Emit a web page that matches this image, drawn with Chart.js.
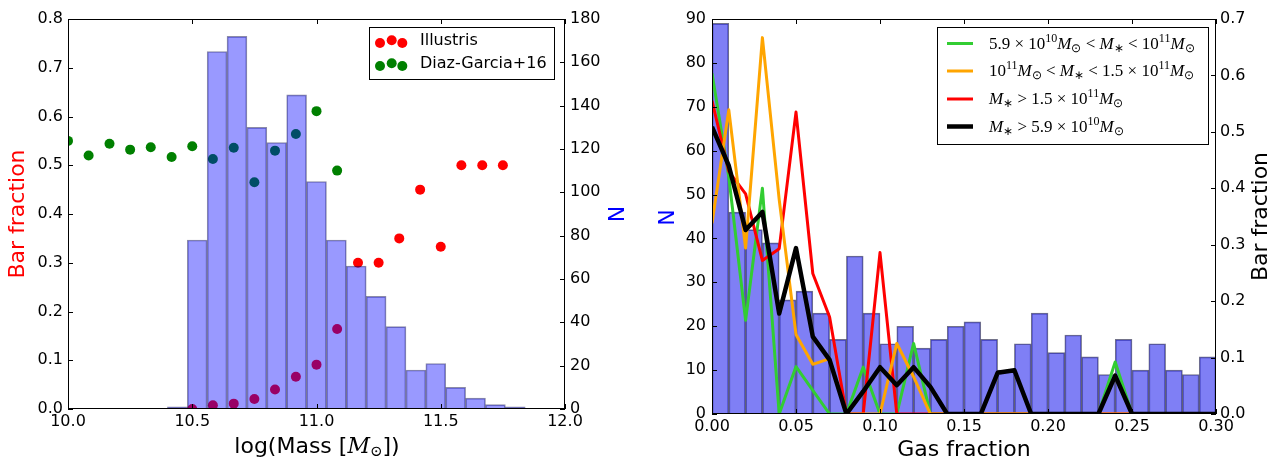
<!DOCTYPE html>
<html><head><meta charset="utf-8">
<script src="https://cdn.jsdelivr.net/npm/chart.js@4/dist/chart.umd.min.js"></script>
<style>
html,body{margin:0;padding:0;background:#fff;}
#wrap{position:relative;width:1274px;height:459px;overflow:hidden;background:#fff;}
#c1{position:absolute;left:0;top:0;}
#c2{position:absolute;left:640px;top:0;}
</style></head><body>
<div id="wrap">
<canvas id="c1" width="640" height="459"></canvas>
<canvas id="c2" width="634" height="459"></canvas>
</div>
<script>
// ---------------- DATA ----------------
// Left panel: stellar-mass histogram (N, right axis) and bar fractions (left axis)
const massBinCenters = [10.44,10.52,10.60,10.68,10.76,10.84,10.92,11.00,11.08,11.16,11.24,11.32,11.40,11.48,11.56,11.64,11.72,11.80];
const massCounts     = [1,78,165,172,130,123,145,105,78,66,52,38,18,21,10,5,2,1];
const illustrisMass  = [10.5,10.583,10.667,10.75,10.833,10.917,11.0,11.083,11.167,11.25,11.333,11.417,11.5,11.583,11.667,11.75];
const illustrisFrac  = [0.0,0.0075,0.011,0.0205,0.040,0.066,0.091,0.164,0.30,0.30,0.35,0.45,0.333,0.50,0.50,0.50];
const diazMass       = [10.0,10.083,10.167,10.25,10.333,10.417,10.5,10.583,10.667,10.75,10.833,10.917,11.0,11.083];
const diazFrac       = [0.55,0.52,0.544,0.532,0.537,0.517,0.539,0.513,0.536,0.465,0.530,0.564,0.611,0.489];
const leftLegend     = ['Illustris','Diaz-Garcia+16'];

// Right panel: gas-fraction histogram (N, left axis) and bar fraction curves (right axis)
const gasBinCenters = [0.005,0.015,0.025,0.035,0.045,0.055,0.065,0.075,0.085,0.095,0.105,0.115,0.125,0.135,0.145,0.155,0.165,0.175,0.185,0.195,0.205,0.215,0.225,0.235,0.245,0.255,0.265,0.275,0.285,0.295];
const gasCounts     = [89,46,42,39,26,28,23,17,36,23,16,20,15,17,20,21,17,10,16,23,14,18,13,9,17,10,16,10,9,13];
const gasX          = [0.00,0.01,0.02,0.03,0.04,0.05,0.06,0.07,0.08,0.09,0.10,0.11,0.12,0.13,0.14,0.15,0.16,0.17,0.18,0.19,0.20,0.21,0.22,0.23,0.24,0.25,0.26,0.27,0.28,0.29,0.30];
const fracLowMass   = [0.604,0.42,0.166,0.40,0,0.084,0.042,0,0,0.083,0,0,0.125,0,0,0,0,0,0,0,0,0,0,0,0.092,0,0,0,0,0,0];
const fracMidMass   = [0.338,0.539,0.294,0.667,0.38,0.141,0.088,0.098,0,0,0,0.125,0.066,0,0,0,0,0,0,0,0,0,0,0,0,0,0,0,0,0,0];
const fracHighMass  = [0.555,0.43,0.39,0.272,0.293,0.535,0.249,0.172,0,0,0.286,0,0,0,0,0,0,0,0,0,0,0,0,0,0,0,0,0,0,0,0];
const fracAllMass   = [0.509,0.440,0.326,0.358,0.178,0.294,0.137,0.096,0,0.04,0.083,0.051,0.083,0.048,0,0,0,0.073,0.0775,0,0,0,0,0,0.068,0,0,0,0,0,0];

// ---------------- HELPERS ----------------
Chart.defaults.font.family = "'DejaVu Sans', sans-serif";
Chart.defaults.font.size = 16;
Chart.defaults.color = '#000';
Chart.defaults.animation = false;

const xy = (xs, ys) => xs.map((x, i) => ({x, y: ys[i]}));

function drawRich(ctx, x, y, segs, size, family, align) {
  const sm = Math.round(size * 0.7);
  const parts = segs.map(([t, k]) => {
    let font, dy = 0;
    if (k === 'i') font = `italic ${size}px ${family}`;
    else if (k === 'sup') { font = `${sm}px ${family}`; dy = -size * 0.36; }
    else if (k === 'sub') { font = `${sm}px ${family}`; dy = size * 0.25; }
    else if (k === 's') font = `${size}px 'DejaVu Sans'`;
    else font = `${size}px ${family}`;
    ctx.font = font;
    return {t, font, dy, w: ctx.measureText(t).width};
  });
  const total = parts.reduce((a, p) => a + p.w, 0);
  let cx = align === 'center' ? x - total / 2 : x;
  ctx.textBaseline = 'middle'; ctx.textAlign = 'left';
  for (const p of parts) { ctx.font = p.font; ctx.fillText(p.t, cx, y + p.dy); cx += p.w; }
}

function rotText(ctx, text, x, y, font, color, ang) {
  ctx.save();
  ctx.translate(x, y); ctx.rotate(ang);
  ctx.font = font; ctx.fillStyle = color;
  ctx.textAlign = 'center'; ctx.textBaseline = 'middle';
  ctx.fillText(text, 0, 0);
  ctx.restore();
}

const frameTicks = {
  id: 'frameTicks',
  afterDraw(chart) {
    const {ctx, chartArea: a, scales} = chart;
    const L = 5;
    ctx.save();
    ctx.strokeStyle = '#000'; ctx.lineWidth = 1;
    ctx.beginPath();
    scales.x.ticks.forEach((t, i) => {
      const px = Math.round(scales.x.getPixelForTick(i)) + 0.5;
      ctx.moveTo(px, a.bottom); ctx.lineTo(px, a.bottom - L);
      ctx.moveTo(px, a.top); ctx.lineTo(px, a.top + L);
    });
    scales.y.ticks.forEach((t, i) => {
      const py = Math.round(scales.y.getPixelForTick(i)) + 0.5;
      ctx.moveTo(a.left, py); ctx.lineTo(a.left + L, py);
    });
    scales.y2.ticks.forEach((t, i) => {
      const py = Math.round(scales.y2.getPixelForTick(i)) + 0.5;
      ctx.moveTo(a.right, py); ctx.lineTo(a.right - L, py);
    });
    ctx.stroke();
    ctx.strokeRect(Math.round(a.left) + 0.5, Math.round(a.top) + 0.5, Math.round(a.right - a.left) - 1, Math.round(a.bottom - a.top) - 1);
    ctx.restore();
  }
};

function axisOpts(min, max, step, digits, pos, pad, fitKey, fitVal) {
  return {
    type: 'linear', position: pos, min, max, offset: false,
    grid: {display: false, drawTicks: false},
    border: {display: false},
    ticks: {stepSize: step, padding: pad, autoSkip: false, maxRotation: 0,
            callback: v => Number(v).toFixed(digits), font: {size: 16}, color: '#000'},
    afterFit: s => { s[fitKey] = fitVal; }
  };
}

// ---------------- LEFT PANEL ----------------
const leftDecor = {
  id: 'leftDecor',
  afterDraw(chart) {
    const ctx = chart.ctx, a = chart.chartArea;
    ctx.save();
    rotText(ctx, 'Bar fraction', 18, (a.top + a.bottom) / 2, "22px 'DejaVu Sans'", '#ff0000', -Math.PI / 2);
    rotText(ctx, 'N', 618, (a.top + a.bottom) / 2, "22px 'DejaVu Sans'", '#0000ff', -Math.PI / 2);
    ctx.fillStyle = '#000';
    drawRich(ctx, 317, 447, [['log(Mass [', 's'], ['M', 'i'], ['\u2299', 'sub'], ['])', 's']], 22, "'DejaVu Serif'", 'center');
    // legend
    ctx.fillStyle = '#fff'; ctx.fillRect(369, 27, 185, 52);
    ctx.strokeStyle = '#000'; ctx.lineWidth = 1; ctx.strokeRect(369.5, 27.5, 185, 52);
    const rows = [{y: 41, c: '#ff0000', t: leftLegend[0]}, {y: 64, c: '#008000', t: leftLegend[1]}];
    rows.forEach(r => {
      ctx.fillStyle = r.c;
      [[380, 2], [391.7, -0.8], [402.3, 2]].forEach(([px, dy]) => {
        ctx.beginPath(); ctx.arc(px, r.y + dy, 5, 0, Math.PI * 2); ctx.fill();
      });
      ctx.fillStyle = '#000'; ctx.font = "16px 'DejaVu Sans'";
      ctx.textAlign = 'left'; ctx.textBaseline = 'middle';
      ctx.fillText(r.t, 420, r.y);
    });
    ctx.restore();
  }
};

new Chart(document.getElementById('c1'), {
  type: 'scatter',
  data: {
    datasets: [
      {type: 'bar', label: 'N', data: xy(massBinCenters, massCounts), yAxisID: 'y2', xAxisID: 'x',
       backgroundColor: 'rgba(0,0,255,0.4)', borderColor: 'rgba(0,0,60,0.45)', borderWidth: 1,
       barPercentage: 1, categoryPercentage: 1, order: 0, clip: 0},
      {label: leftLegend[0], data: xy(illustrisMass, illustrisFrac), yAxisID: 'y',
       backgroundColor: '#ff0000', borderWidth: 0, pointRadius: 5, order: 1, clip: 0},
      {label: leftLegend[1], data: xy(diazMass, diazFrac), yAxisID: 'y',
       backgroundColor: '#008000', borderWidth: 0, pointRadius: 5, order: 2, clip: 0}
    ]
  },
  options: {
    responsive: false, animation: false, events: [],
    layout: {padding: {top: 19, left: 0, right: 0, bottom: 0}},
    plugins: {legend: {display: false}, tooltip: {enabled: false}},
    scales: {
      x: axisOpts(10, 12, 0.5, 1, 'bottom', 3, 'height', 50),
      y: axisOpts(0, 0.8, 0.1, 1, 'left', 5, 'width', 68),
      y2: axisOpts(0, 180, 20, 0, 'right', 5, 'width', 75)
    }
  },
  plugins: [frameTicks, leftDecor]
});

// ---------------- RIGHT PANEL ----------------
const rightLegendRows = [
  {c: '#32cd32', w: 3, segs: [['5.9','r'],[' \u00d7 ','r'],['10','r'],['10','sup'],['M','i'],['\u2299','sub'],[' < ','r'],['M','i'],['\u2217','sub'],[' < ','r'],['10','r'],['11','sup'],['M','i'],['\u2299','sub']]},
  {c: '#ffa500', w: 3, segs: [['10','r'],['11','sup'],['M','i'],['\u2299','sub'],[' < ','r'],['M','i'],['\u2217','sub'],[' < ','r'],['1.5','r'],[' \u00d7 ','r'],['10','r'],['11','sup'],['M','i'],['\u2299','sub']]},
  {c: '#ff0000', w: 3, segs: [['M','i'],['\u2217','sub'],[' > ','r'],['1.5','r'],[' \u00d7 ','r'],['10','r'],['11','sup'],['M','i'],['\u2299','sub']]},
  {c: '#000000', w: 4.5, segs: [['M','i'],['\u2217','sub'],[' > ','r'],['5.9','r'],[' \u00d7 ','r'],['10','r'],['10','sup'],['M','i'],['\u2299','sub']]}
];

const rightDecor = {
  id: 'rightDecor',
  afterDraw(chart) {
    const ctx = chart.ctx, a = chart.chartArea;
    ctx.save();
    rotText(ctx, 'N', 28, (a.top + a.bottom) / 2 + 1, "22px 'DejaVu Sans'", '#0000ff', -Math.PI / 2);
    rotText(ctx, 'Bar fraction', 621, (a.top + a.bottom) / 2, "22px 'DejaVu Sans'", '#000', -Math.PI / 2);
    ctx.fillStyle = '#000'; ctx.font = "22px 'DejaVu Sans'";
    ctx.textAlign = 'center'; ctx.textBaseline = 'middle';
    ctx.fillText('Gas fraction', (a.left + a.right) / 2, 450);
    // legend
    ctx.fillStyle = '#fff'; ctx.fillRect(297, 27, 271, 117);
    ctx.strokeStyle = '#000'; ctx.lineWidth = 1; ctx.strokeRect(297.5, 27.5, 271, 117);
    const ys = [43.5, 71, 99, 126.5];
    rightLegendRows.forEach((r, i) => {
      ctx.strokeStyle = r.c; ctx.lineWidth = r.w;
      ctx.beginPath(); ctx.moveTo(307, ys[i]); ctx.lineTo(333, ys[i]); ctx.stroke();
      ctx.fillStyle = '#000';
      drawRich(ctx, 349, ys[i] + 1, r.segs, 17, "'Liberation Serif'", 'left');
    });
    ctx.restore();
  }
};

function lineDs(label, ys, color, width, order) {
  return {type: 'line', label, data: xy(gasX, ys), yAxisID: 'y2', borderColor: color, borderWidth: width,
          pointRadius: 0, fill: false, tension: 0, order, clip: 0, borderJoinStyle: 'round'};
}

new Chart(document.getElementById('c2'), {
  type: 'scatter',
  data: {
    datasets: [
      {type: 'bar', label: 'N', data: xy(gasBinCenters, gasCounts), yAxisID: 'y',
       backgroundColor: 'rgba(0,0,235,0.5)', borderColor: 'rgba(0,0,40,0.55)', borderWidth: 1,
       barPercentage: 1, categoryPercentage: 1, order: 10, clip: 0},
      lineDs('5.9e10 < M* < 1e11', fracLowMass, '#32cd32', 3, 3),
      lineDs('1e11 < M* < 1.5e11', fracMidMass, '#ffa500', 3, 1),
      lineDs('M* > 1.5e11', fracHighMass, '#ff0000', 3, 2),
      lineDs('M* > 5.9e10', fracAllMass, '#000000', 4.5, 0)
    ]
  },
  options: {
    responsive: false, animation: false, events: [],
    layout: {padding: {top: 19, left: 0, right: 0, bottom: 0}},
    plugins: {legend: {display: false}, tooltip: {enabled: false}},
    scales: {
      x: axisOpts(0, 0.3, 0.05, 2, 'bottom', 3, 'height', 45),
      y: axisOpts(0, 90, 10, 0, 'left', 6, 'width', 72),
      y2: axisOpts(0, 0.7, 0.1, 1, 'right', 4, 'width', 58)
    }
  },
  plugins: [frameTicks, rightDecor]
});
</script>
</body></html>
